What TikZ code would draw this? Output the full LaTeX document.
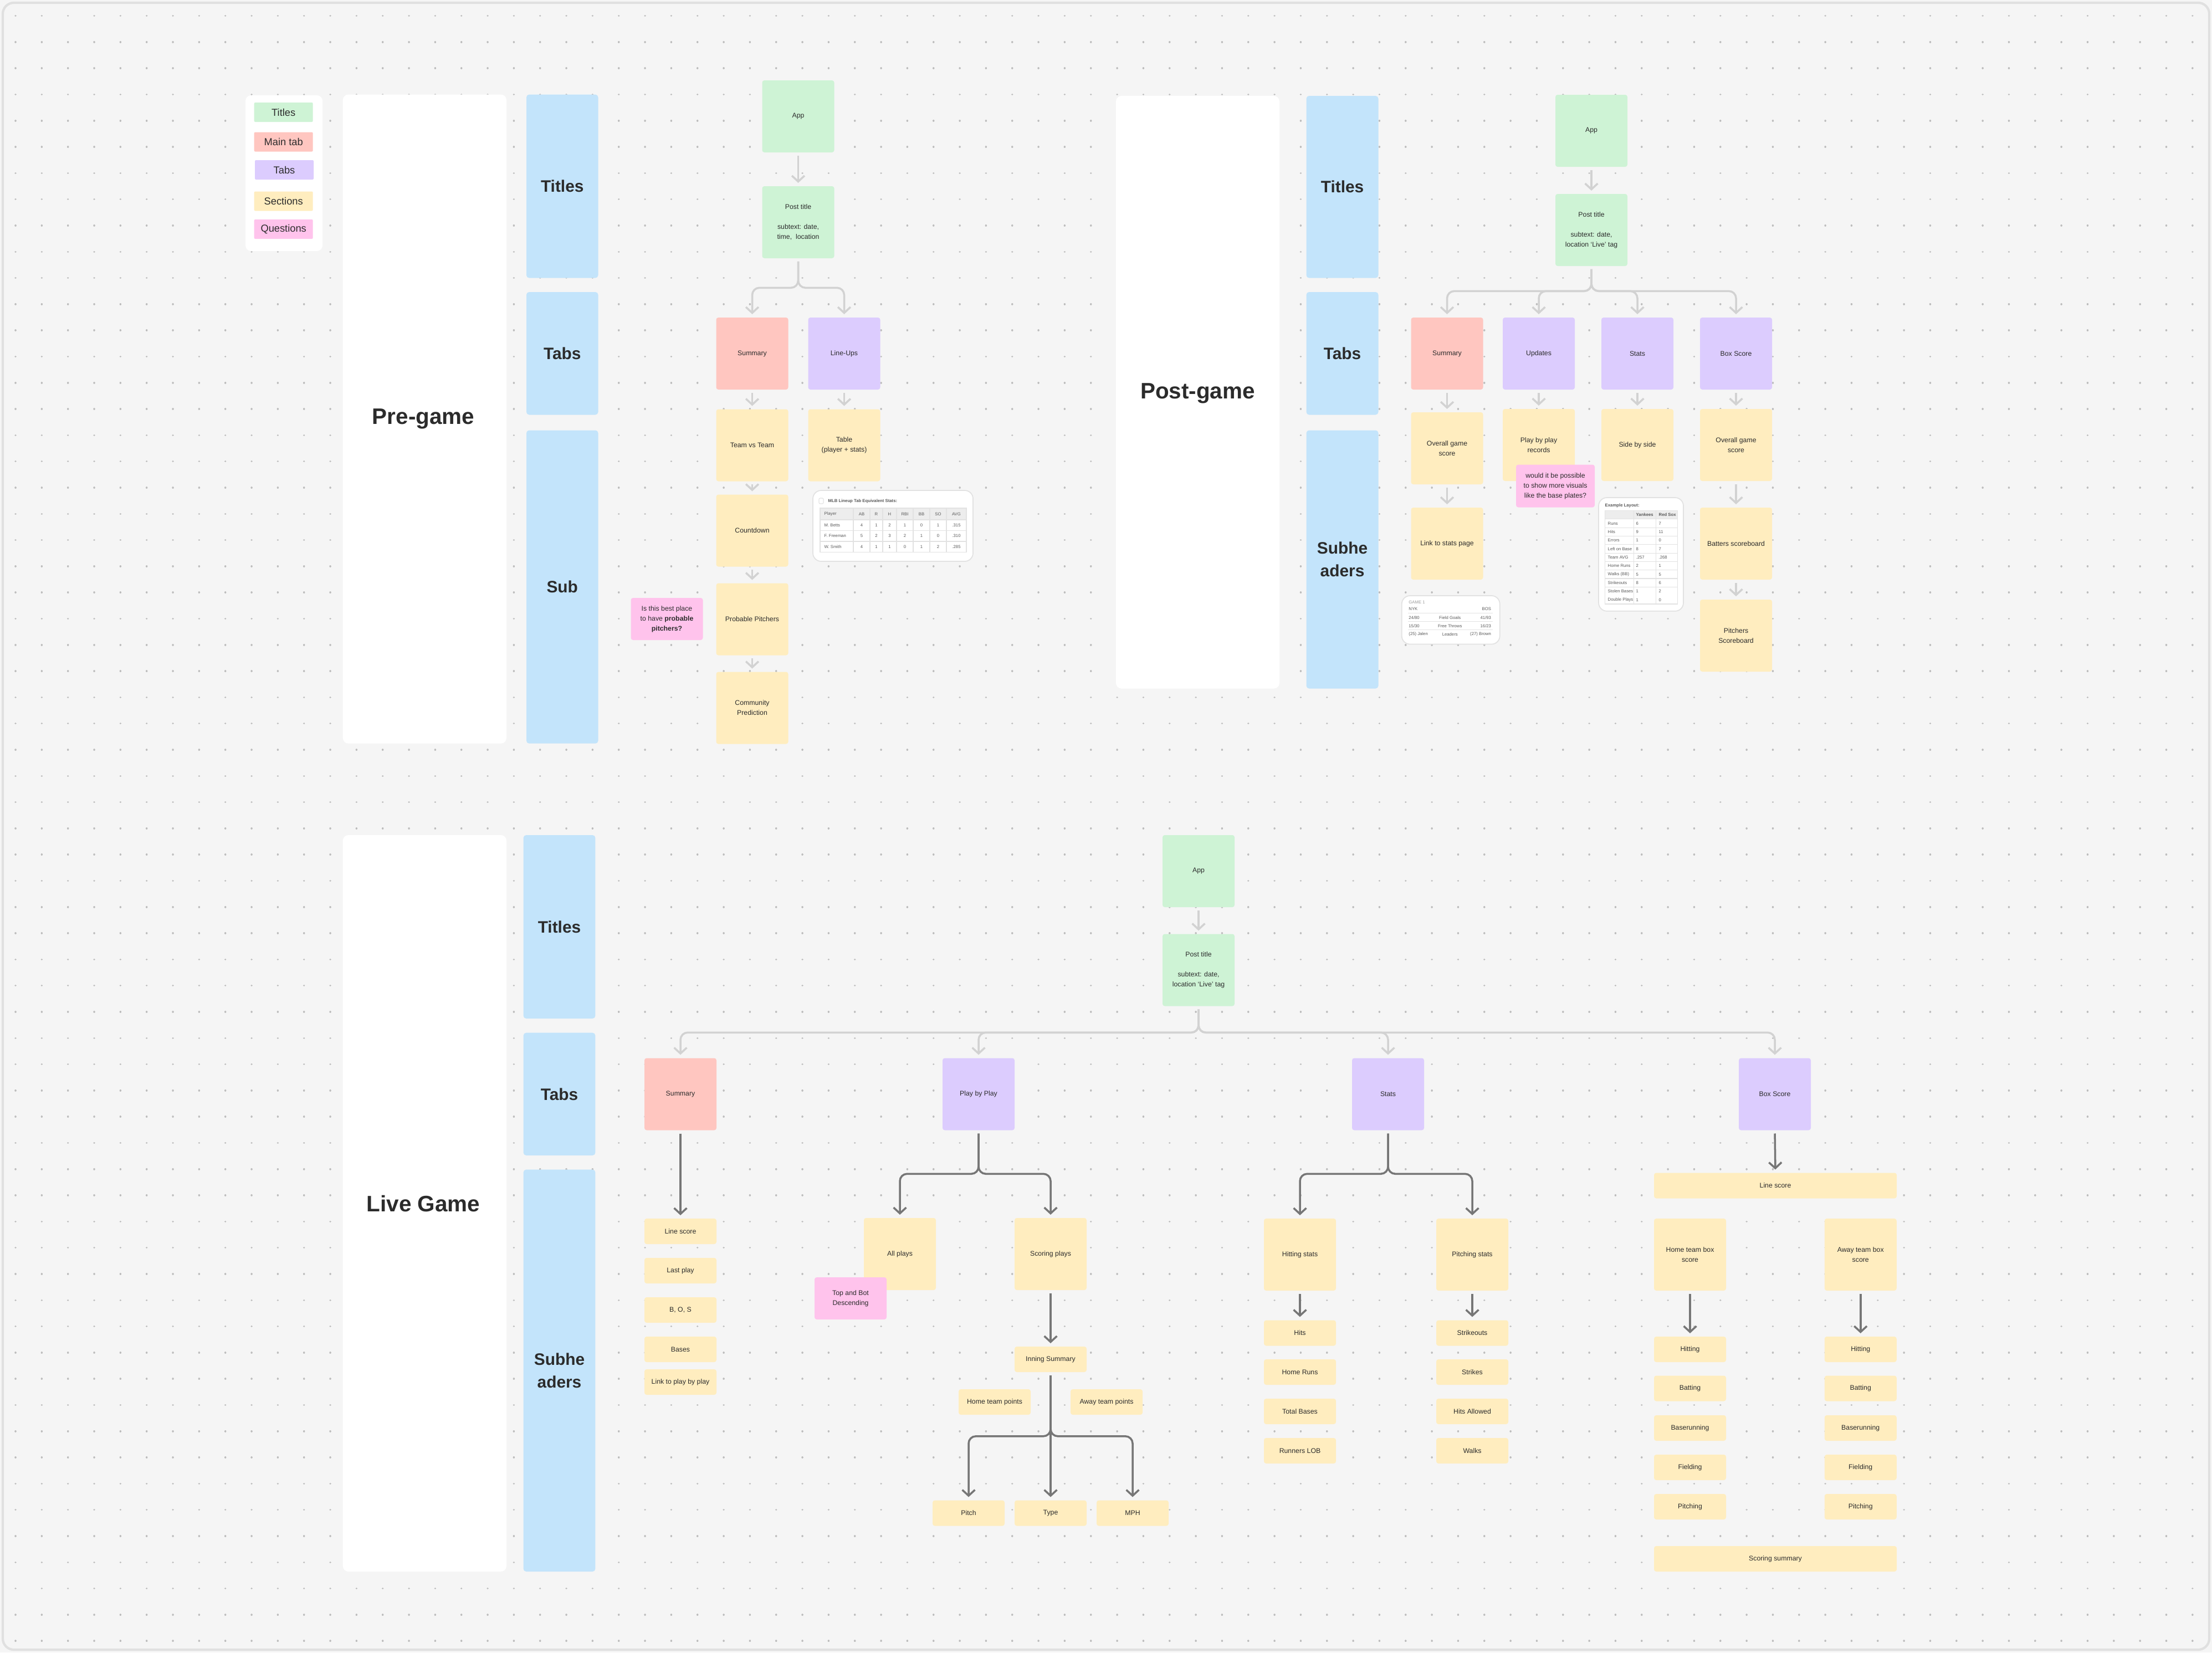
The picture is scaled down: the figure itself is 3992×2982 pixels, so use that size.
\documentclass[tikz,border=0pt]{standalone}
\usepackage{fontspec}
\setmainfont{Liberation Sans}
\usetikzlibrary{arrows.meta}

\definecolor{bgc}{HTML}{F5F5F5}
\definecolor{dotc}{HTML}{BDBDBD}
\definecolor{framec}{HTML}{E0E0E0}
\definecolor{titlec}{HTML}{CEF3D5}
\definecolor{mainc}{HTML}{FFC6C0}
\definecolor{tabc}{HTML}{DCCCFE}
\definecolor{secc}{HTML}{FFEDBF}
\definecolor{quesc}{HTML}{FFC3EC}
\definecolor{colc}{HTML}{C3E4FB}
\definecolor{inkc}{HTML}{2B2B2B}
\definecolor{lightarr}{HTML}{D2D2D2}
\definecolor{darkarr}{HTML}{767676}
\definecolor{cardline}{HTML}{E2E2E2}
\definecolor{tblhead}{HTML}{EDEDED}
\definecolor{tblink}{HTML}{5A5A5A}

\newcommand{\stickyfont}{\fontsize{3.5pt}{5.1pt}\selectfont}
\newcommand{\headfont}{\fontsize{8.5pt}{11.6pt}\selectfont\bfseries}
\newcommand{\bigfont}{\fontsize{11.5pt}{14pt}\selectfont\bfseries}
\newcommand{\legfont}{\fontsize{5.2pt}{6pt}\selectfont}
\newcommand{\tblfont}{\fontsize{2.2pt}{2.6pt}\selectfont}

\tikzset{
  note/.style={rounded corners=0.4mm, inner sep=0.3mm, align=center, text=inkc, font=\stickyfont, minimum width=13mm},
  sqnote/.style={note, minimum height=13mm},
  titlenote/.style={sqnote, fill=titlec},
  mainnote/.style={sqnote, fill=mainc},
  tabnote/.style={sqnote, fill=tabc},
  secnote/.style={sqnote, fill=secc},
  barnote/.style={note, fill=secc, minimum height=4.6mm},
  quesnote/.style={note, fill=quesc, minimum height=7.6mm},
  legitem/.style={rounded corners=0.2mm, minimum width=10.6mm, minimum height=3.5mm, inner sep=0pt, text=inkc, font=\legfont},
  panel/.style={fill=white, rounded corners=1mm},
  column/.style={fill=colc, rounded corners=0.5mm},
  headlabel/.style={text=inkc, font=\headfont, align=center},
  biglabel/.style={text=inkc, font=\bigfont},
  lconn/.style={draw=lightarr, line width=1pt, rounded corners=1.3mm, shorten >=1.5pt, shorten <=1.5pt, -{Straight Barb[length=3pt,width=6.5pt]}},
  dconn/.style={lconn, draw=darkarr},
  card/.style={fill=white, draw=cardline, line width=0.5pt, rounded corners=1.5mm},
  tblline/.style={draw=cardline, line width=0.3pt},
  tbltext/.style={text=tblink, font=\tblfont, inner sep=0pt},
  dotrow/.style={draw=dotc, line width=1pt, line cap=round, dash pattern=on 0.01pt off 4.73mm}
}

\begin{document}
\begin{tikzpicture}[x=0.1mm, y=-0.1mm]
% canvas
\fill[bgc] (0,0) rectangle (3992,2982);
\useasboundingbox (0,0) rectangle (3992,2982);
\foreach \j in {0,...,62}
  \draw[dotrow] (28,{28.6+47.3*\j}) -- (3992,{28.6+47.3*\j});
\draw[framec, line width=1.2pt, rounded corners=2mm] (5,5) rectangle (3987,2977);

% legend
\fill[panel] (443,172) rectangle (582,453);
\node[legitem, fill=titlec] (legTitles) at (511.7,202.5) {Titles};
\node[legitem, fill=mainc] (legMain) at (511.7,256) {Main tab};
\node[legitem, fill=tabc] (legTabs) at (513,306.5) {Tabs};
\node[legitem, fill=secc] (legSections) at (511.7,363) {Sections};
\node[legitem, fill=quesc] (legQuestions) at (511.7,413.5) {Questions};

% pre-game
\fill[panel] (618.7,170.6) rectangle (914,1341.7);
\node[biglabel] (preName) at (764,756) {Pre-game};
\fill[column] (950,170.6) rectangle (1079.5,501.6);
\fill[column] (950,527) rectangle (1079.5,748.5);
\fill[column] (950,776.5) rectangle (1079.5,1341.7);
\node[headlabel] (preTitles) at (1014.75,336) {Titles};
\node[headlabel] (preTabs) at (1014.75,637.75) {Tabs};
\node[headlabel] (preSub) at (1014.75,1059) {Sub};

\node[titlenote] (pApp) at (1440.5,210) {App};
\node[titlenote] (pPost) at (1440.5,401) {Post title\\[5.1pt]subtext: date,\\time,~ location};
\node[mainnote] (pSum) at (1357.5,638) {Summary};
\node[tabnote] (pLine) at (1523.5,638) {Line-Ups};
\node[secnote] (pTeam) at (1357.5,803.5) {Team vs Team};
\node[secnote] (pTable) at (1523.5,803.5) {Table\\(player + stats)};
\node[secnote] (pCount) at (1357.5,957.5) {Countdown};
\node[secnote] (pProb) at (1357.5,1117.5) {Probable Pitchers};
\node[secnote] (pComm) at (1357.5,1277.5) {Community\\Prediction};
\node[quesnote] (pAsk) at (1203.5,1117) {Is this best place\\to have \textbf{probable}\\\textbf{pitchers?}};

\draw[lconn] (pApp.south) -- (pPost.north);
\draw[lconn] (pPost.south) |- ([yshift=5.3mm]pSum.north) -- (pSum.north);
\draw[lconn] (pPost.south) |- ([yshift=5.3mm]pLine.north) -- (pLine.north);
\draw[lconn] (pSum.south) -- (pTeam.north);
\draw[lconn] (pLine.south) -- (pTable.north);
\draw[lconn] (pTeam.south) -- (pCount.north);
\draw[lconn] (pCount.south) -- (pProb.north);
\draw[lconn] (pProb.south) -- (pComm.north);

% lineup stats card
\draw[card] (1467,885) rectangle (1756,1013);
\draw[tblline, rounded corners=0.2mm] (1478,899) rectangle (1486,909);
\node[tbltext, font=\tblfont\bfseries, anchor=west] (mlbTitle) at (1494,904) {MLB Lineup Tab Equivalent Stats:};
\fill[tblhead] (1480,917) rectangle (1744,938);
\draw[tblline] (1480,917) rectangle (1744,996.7);
\foreach \x in {1540,1570,1593,1618,1648,1678,1708}
  \draw[tblline] (\x,917) -- (\x,996.7);
\foreach \y in {938,957.5,977}
  \draw[tblline] (1480,\y) -- (1744,\y);
\foreach \y/\pname [count=\k] in {927.5/Player, 947.75/M. Betts, 967.25/F. Freeman, 986.85/W. Smith}
  \node[tbltext, anchor=west] (mlbName\k) at (1487,\y) {\pname};
\foreach \x/\hd/\ca/\cb/\cc [count=\k] in {1555/AB/4/5/4, 1581.5/R/1/2/1, 1605.5/H/2/3/1, 1633/RBI/1/2/0, 1663/BB/0/1/1, 1693/SO/1/0/2, 1726/AVG/.315/.310/.285} {
  \node[tbltext] (mlbHead\k) at (\x,927.5) {\hd};
  \node[tbltext] (mlbA\k) at (\x,947.75) {\ca};
  \node[tbltext] (mlbB\k) at (\x,967.25) {\cb};
  \node[tbltext] (mlbC\k) at (\x,986.85) {\cc};
}

% post-game
\fill[panel] (2014,173) rectangle (2309,1242.5);
\node[biglabel] (postName) at (2161.5,710) {Post-game};
\fill[column] (2357.5,173) rectangle (2487.5,501.6);
\fill[column] (2357.5,527) rectangle (2487.5,748.5);
\fill[column] (2357.5,776.5) rectangle (2487.5,1242.5);
\node[headlabel] (postTitles) at (2422.5,337) {Titles};
\node[headlabel] (postTabs) at (2422.5,638) {Tabs};
\node[headlabel] (postSub) at (2422.5,1009.5) {Subhe\\aders};

\node[titlenote] (qApp) at (2872,236) {App};
\node[titlenote] (qPost) at (2872,415) {Post title\\[5.1pt]subtext: date,\\location `Live' tag};
\node[mainnote] (qSum) at (2611.5,638) {Summary};
\node[tabnote] (qUpd) at (2777,638) {Updates};
\node[tabnote] (qStat) at (2955,638) {Stats};
\node[tabnote] (qBox) at (3133,638) {Box Score};
\node[secnote] (qOver) at (2611.5,809) {Overall game\\score};
\node[secnote] (qPlay) at (2777,803) {Play by play\\records};
\node[secnote] (qSide) at (2955,803) {Side by side};
\node[secnote] (qBoxOver) at (3133,803) {Overall game\\score};
\node[secnote] (qLink) at (2611.5,981) {Link to stats page};
\node[secnote] (qBat) at (3133,981) {Batters scoreboard};
\node[secnote] (qPit) at (3133,1147) {Pitchers\\Scoreboard};
\node[quesnote, minimum width=14.2mm, minimum height=7.7mm] (qAsk) at (2807,877) {would it be possible\\to show more visuals\\like the base plates?};

\draw[lconn] (qApp.south) -- (qPost.north);
\foreach \c in {qSum,qUpd,qStat,qBox}
  \draw[lconn] (qPost.south) |- ([yshift=4.7mm]\c.north) -- (\c.north);
\draw[lconn] (qSum.south) -- (qOver.north);
\draw[lconn] (qOver.south) -- (qLink.north);
\draw[lconn] (qUpd.south) -- (qPlay.north);
\draw[lconn] (qStat.south) -- (qSide.north);
\draw[lconn] (qBox.south) -- (qBoxOver.north);
\draw[lconn] (qBoxOver.south) -- (qBat.north);
\draw[lconn] (qBat.south) -- (qPit.north);

% game card
\draw[card] (2529.7,1075) rectangle (2706.7,1162.5);
\node[tbltext, anchor=west, text=tblink!60] (gmTitle) at (2541.7,1087.3) {GAME 1};
\foreach \y in {1106.7,1121.7,1136.7}
  \draw[tblline] (2541,\y) -- (2694,\y);
\node[tbltext, anchor=west] (gmL1) at (2541.7,1099) {NYK};
\node[tbltext, anchor=east] (gmR1) at (2691.7,1099) {BOS};
\node[tbltext, anchor=west] (gmL2) at (2541.7,1114.3) {24/80};
\node[tbltext] (gmM2) at (2616.7,1114.3) {Field Goals};
\node[tbltext, anchor=east] (gmR2) at (2691.7,1114.3) {41/93};
\node[tbltext, anchor=west] (gmL3) at (2541.7,1130) {15/30};
\node[tbltext] (gmM3) at (2616.7,1130) {Free Throws};
\node[tbltext, anchor=east] (gmR3) at (2691.7,1130) {16/23};
\node[tbltext, anchor=west] (gmL4) at (2541.7,1144.7) {(25) Jalen};
\node[tbltext] (gmM4) at (2616.7,1144.7) {Leaders};
\node[tbltext, anchor=east] (gmR4) at (2691.7,1144.7) {(27) Brown};

% example layout card
\draw[card] (2885,898) rectangle (3038,1102.8);
\node[tbltext, font=\tblfont\bfseries, anchor=west] (exTitle) at (2896,912) {Example Layout:};
\fill[tblhead] (2896,921.7) rectangle (3027,936.7);
\draw[tblline] (2896,921.7) rectangle (3027,1090);
\foreach \x in {2948,2988}
  \draw[tblline] (\x,921.7) -- (\x,1090);
\foreach \k in {0,...,8}
  \draw[tblline] (2896,{936.7+15.33*\k}) -- (3027,{936.7+15.33*\k});
\node[tbltext, font=\tblfont\bfseries, anchor=west] (exHeadA) at (2952,929.2) {Yankees};
\node[tbltext, font=\tblfont\bfseries, anchor=west] (exHeadB) at (2993,929.2) {Red Sox};
\foreach \lab/\va/\vb [count=\k] in {Runs/6/7, Hits/9/11, Errors/1/0, Left on Base/8/7, Team AVG/.257/.268, Home Runs/2/1, Walks (BB)/5/5, Strikeouts/8/6, Stolen Bases/1/2, Double Plays/1/0} {
  \node[tbltext, anchor=west] (exRow\k) at (2901,{944.4+15.33*(\k-1)}) {\lab};
  \node[tbltext, anchor=west] (exA\k) at (2952,{944.4+15.33*(\k-1)}) {\va};
  \node[tbltext, anchor=west] (exB\k) at (2993,{944.4+15.33*(\k-1)}) {\vb};
}

% live game
\fill[panel] (618.7,1507) rectangle (914,2836);
\node[biglabel] (liveName) at (764,2172) {Live Game};
\fill[column] (944.6,1507) rectangle (1074.4,1838);
\fill[column] (944.6,1863.7) rectangle (1074.4,2085);
\fill[column] (944.6,2110.6) rectangle (1074.4,2836);
\node[headlabel] (liveTitles) at (1009.5,1672.5) {Titles};
\node[headlabel] (liveTabs) at (1009.5,1974.4) {Tabs};
\node[headlabel] (liveSub) at (1009.5,2473) {Subhe\\aders};

\node[titlenote] (lApp) at (2163,1572) {App};
\node[titlenote] (lPost) at (2163,1750.5) {Post title\\[5.1pt]subtext: date,\\location `Live' tag};
\node[mainnote] (lSum) at (1228,1974.5) {Summary};
\node[tabnote] (lPbp) at (1766,1974.5) {Play by Play};
\node[tabnote] (lStat) at (2505,1974.5) {Stats};
\node[tabnote] (lBox) at (3203,1974.5) {Box Score};

\draw[lconn] (lApp.south) -- (lPost.north);
\foreach \c in {lSum,lPbp,lStat,lBox}
  \draw[lconn] (lPost.south) |- ([yshift=4.55mm]\c.north) -- (\c.north);

% live summary
\foreach \t/\y [count=\k] in {Line score/2222, Last play/2293, {B, O, S}/2364, Bases/2435, Link to play by play/2494}
  \node[barnote] (lSumItem\k) at (1228,\y) {\t};
\draw[dconn] (lSum.south) -- (lSumItem1.north);

% live play by play
\node[secnote] (lAll) at (1624,2263) {All plays};
\node[secnote] (lScore) at (1896,2263) {Scoring plays};
\node[quesnote] (lTop) at (1535,2343) {Top and Bot\\Descending};
\node[barnote] (lInn) at (1896,2453) {Inning Summary};
\node[barnote] (lHome) at (1795,2530) {Home team points};
\node[barnote] (lAway) at (1997,2530) {Away team points};
\node[barnote] (lPitch) at (1748,2730.5) {Pitch};
\node[barnote] (lType) at (1896,2730.5) {Type};
\node[barnote] (lMph) at (2044,2730.5) {MPH};
\draw[dconn] (lPbp.south) |- ([yshift=7.9mm]lAll.north) -- (lAll.north);
\draw[dconn] (lPbp.south) |- ([yshift=7.9mm]lScore.north) -- (lScore.north);
\draw[dconn] (lScore.south) -- (lInn.north);
\draw[dconn] (lInn.south) |- ([yshift=11.5mm]lPitch.north) -- (lPitch.north);
\draw[dconn] (lInn.south) |- ([yshift=11.5mm]lMph.north) -- (lMph.north);
\draw[dconn] (lInn.south) -- (lType.north);

% live stats
\node[secnote] (lHit) at (2346,2264) {Hitting stats};
\node[secnote] (lPitS) at (2657,2264) {Pitching stats};
\foreach \ta/\tb/\y [count=\k] in {Hits/Strikeouts/2405.5, Home Runs/Strikes/2476, Total Bases/Hits Allowed/2547, Runners LOB/Walks/2618} {
  \node[barnote] (lHitItem\k) at (2346,\y) {\ta};
  \node[barnote] (lPitItem\k) at (2657,\y) {\tb};
}
\draw[dconn] (lStat.south) |- ([yshift=8mm]lHit.north) -- (lHit.north);
\draw[dconn] (lStat.south) |- ([yshift=8mm]lPitS.north) -- (lPitS.north);
\draw[dconn] (lHit.south) -- (lHitItem1.north);
\draw[dconn] (lPitS.south) -- (lPitItem1.north);

% live box score
\node[barnote, minimum width=43.8mm] (lBLine) at (3204,2139.5) {Line score};
\node[secnote] (lHomeBox) at (3050,2264) {Home team box\\score};
\node[secnote] (lAwayBox) at (3357.7,2264) {Away team box\\score};
\foreach \t/\y [count=\k] in {Hitting/2435, Batting/2505.5, Baserunning/2577, Fielding/2648, Pitching/2719} {
  \node[barnote] (lHomeItem\k) at (3050,\y) {\t};
  \node[barnote] (lAwayItem\k) at (3357.7,\y) {\t};
}
\node[barnote, minimum width=43.8mm] (lScSum) at (3204,2813) {Scoring summary};
\draw[dconn] (lBox.south) -- (lBLine.north);
\draw[dconn] (lHomeBox.south) -- (lHomeItem1.north);
\draw[dconn] (lAwayBox.south) -- (lAwayItem1.north);
\end{tikzpicture}
\end{document}
